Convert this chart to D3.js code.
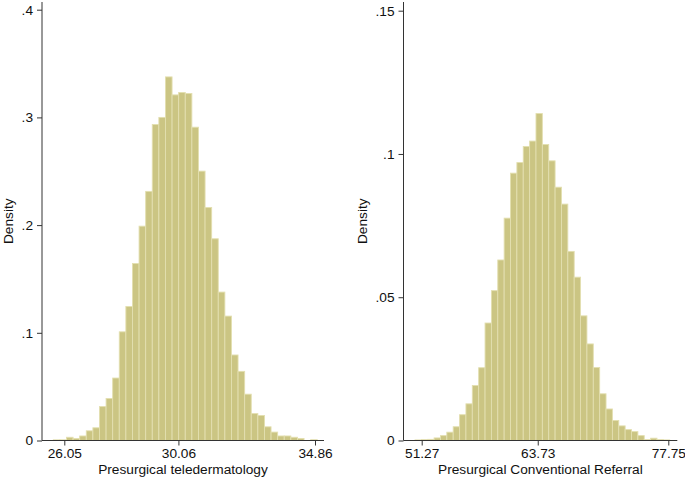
<!DOCTYPE html>
<html>
<head>
<meta charset="utf-8">
<script src="https://cdn.jsdelivr.net/npm/d3@7/dist/d3.min.js"></script>
<style>
  html, body { margin: 0; padding: 0; background: #fff; }
  svg { display: block; }
  text { font-family: "Liberation Sans", Arial, Helvetica, sans-serif; fill: #111; }
</style>
</head>
<body>
<svg id="chart" width="685" height="477"></svg>
<script>
// ---- Data ----
const leftTitle = "Presurgical teledermatology";
const rightTitle = "Presurgical Conventional Referral";
const yTitle = "Density";

const leftBinStart = 25.663;
const leftBinWidth = 0.2319;
const leftDensity = [0.0006,0.0006,0.003,0.0018,0.0042,0.009,0.0118,0.0315,0.039,0.058,
  0.1009,0.1244,0.1643,0.199,0.2313,0.2934,0.300,0.3376,0.3209,0.3231,
  0.3222,0.2909,0.2501,0.2164,0.1873,0.1378,0.1155,0.0794,0.0642,0.043,
  0.025,0.0232,0.0127,0.0078,0.0042,0.0042,0.003,0.0019,0,0.0007];

const rightBinStart = 50.55;
const rightBinWidth = 0.6838;
const rightDensity = [0.0002,0.0003,0.0004,0.0009,0.0017,0.0029,0.0048,0.009,0.0128,0.0192,
  0.0254,0.041,0.0523,0.063,0.0776,0.0933,0.097,0.1026,0.1045,0.1141,
  0.1033,0.0976,0.0884,0.0825,0.066,0.057,0.0435,0.0337,0.0255,0.0163,
  0.011,0.007,0.0051,0.0038,0.0031,0.0017,0.0003,0.0008,0.0003,0.0002];

const leftXTicks = [26.05, 30.06, 34.86];
const leftXTickLabels = ["26.05", "30.06", "34.86"];
const leftYTicks = [0, 0.1, 0.2, 0.3, 0.4];
const leftYTickLabels = ["0", ".1", ".2", ".3", ".4"];

const rightXTicks = [51.27, 63.73, 77.75];
const rightXTickLabels = ["51.27", "63.73", "77.75"];
const rightYTicks = [0, 0.05, 0.1, 0.15];
const rightYTickLabels = ["0", ".05", ".1", ".15"];

// ---- Drawing ----
const svg = d3.select("#chart");
const FILL = "#cbc583";
const EDGE = "#e3dfb0";
const AXIS = "#333";
const FONT = 13.7;

function panel(cfg) {
  const g = svg.append("g");
  const x = d3.scaleLinear().domain(cfg.xTickDomain).range(cfg.xTickRange);
  const y = d3.scaleLinear().domain(cfg.yTickDomain).range(cfg.yTickRange);

  const bins = cfg.density.map((d, i) => ({
    x0: cfg.binStart + i * cfg.binWidth,
    x1: cfg.binStart + (i + 1) * cfg.binWidth,
    d: d
  }));

  g.append("g").selectAll("rect").data(bins.filter(b => b.d > 0)).join("rect")
    .attr("x", b => x(b.x0))
    .attr("width", b => x(b.x1) - x(b.x0))
    .attr("y", b => y(b.d))
    .attr("height", b => y(0) - y(b.d))
    .attr("fill", FILL)
    .attr("stroke", EDGE)
    .attr("stroke-width", 0.9);

  // y axis
  const yAxis = d3.axisLeft(y).tickValues(cfg.yTicks)
    .tickFormat((d, i) => cfg.yTickLabels[i]).tickSize(5).tickPadding(4);
  const ya = g.append("g").attr("transform", `translate(${cfg.axisX},0)`).call(yAxis);
  ya.select(".domain").remove();
  ya.selectAll(".tick line").attr("stroke", AXIS);
  ya.selectAll(".tick text").attr("font-size", FONT).attr("fill", "#111")
    .style("font-family", '"Liberation Sans", Arial, sans-serif');
  g.append("line").attr("x1", cfg.axisX).attr("x2", cfg.axisX)
    .attr("y1", y(0)).attr("y2", cfg.axisTop).attr("stroke", AXIS).attr("stroke-width", 1);

  // x axis
  const xAxis = d3.axisBottom(x).tickValues(cfg.xTicks)
    .tickFormat((d, i) => cfg.xTickLabels[i]).tickSize(5).tickPadding(3);
  const xa = g.append("g").attr("transform", `translate(0,${y(0)})`).call(xAxis);
  xa.select(".domain").remove();
  xa.selectAll(".tick line").attr("stroke", AXIS);
  xa.selectAll(".tick text").attr("font-size", FONT).attr("fill", "#111")
    .style("font-family", '"Liberation Sans", Arial, sans-serif');
  g.append("line").attr("x1", cfg.axisX).attr("x2", cfg.axisRight)
    .attr("y1", y(0)).attr("y2", y(0)).attr("stroke", AXIS).attr("stroke-width", 1);

  // titles
  g.append("text").attr("x", (cfg.axisX + cfg.axisRight) / 2).attr("y", 474.3)
    .attr("text-anchor", "middle").attr("font-size", FONT).text(cfg.xTitle);
  const cy = (y(0) + cfg.axisTop) / 2;
  g.append("text").attr("transform", `translate(${cfg.yTitleX},${cy}) rotate(-90)`)
    .attr("text-anchor", "middle").attr("font-size", FONT).text(yTitle);
}

panel({
  density: leftDensity, binStart: leftBinStart, binWidth: leftBinWidth,
  xTickDomain: [26.05, 34.86], xTickRange: [64.3, 315],
  yTickDomain: [0, 0.4], yTickRange: [440.5, 9.7],
  xTicks: leftXTicks, xTickLabels: leftXTickLabels,
  yTicks: leftYTicks, yTickLabels: leftYTickLabels,
  axisX: 42, axisRight: 324, axisTop: 2,
  xTitle: leftTitle, yTitleX: 13.3
});

panel({
  density: rightDensity, binStart: rightBinStart, binWidth: rightBinWidth,
  xTickDomain: [51.27, 77.75], xTickRange: [421.7, 668.3],
  yTickDomain: [0, 0.15], yTickRange: [440.5, 10.7],
  xTicks: rightXTicks, xTickLabels: rightXTickLabels,
  yTicks: rightYTicks, yTickLabels: rightYTickLabels,
  axisX: 403.5, axisRight: 677.3, axisTop: 2,
  xTitle: rightTitle, yTitleX: 366.7
});
</script>
</body>
</html>
